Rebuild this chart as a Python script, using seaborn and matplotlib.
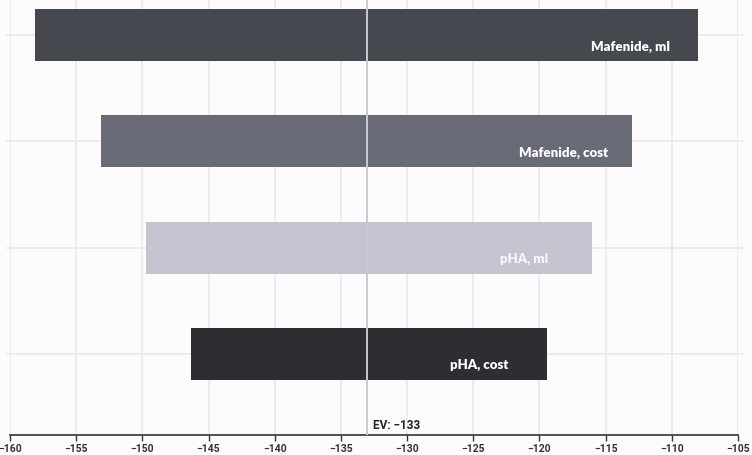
import matplotlib
matplotlib.use("Agg")
import matplotlib.pyplot as plt
import seaborn as sns
import pandas as pd
from matplotlib import font_manager

# ---- data ----
params = ["Mafenide, ml", "Mafenide, cost", "pHA, ml", "pHA, cost"]
low_vals = [-158.1, -153.1, -149.7, -146.3]
high_vals = [-108.0, -113.0, -116.0, -119.4]
ev_value = -133
x_ticks = [-160, -155, -150, -145, -140, -135, -130, -125, -120, -115, -110, -105]

bar_colors = ["#45484f", "#686a76", "#c5c4d1", "#2d2e32"]
label_colors = ["#ffffff", "#ffffff", "#f6f6fa", "#ffffff"]

sns.set_theme(style="white")
fonts = font_manager.fontManager.ttflist
names = {f.name for f in fonts}
if "Liberation Sans Narrow" in names:
    narrow_fam = ["Liberation Sans Narrow", "DejaVu Sans"]
else:
    narrow_fam = ["Roboto", "DejaVu Sans"]
plt.rcParams["font.family"] = ["Lato", "DejaVu Sans"]

bg = "#fdfbfc"
fig = plt.figure(figsize=(7.52, 4.56), dpi=100, facecolor=bg)
ax = fig.add_axes([10 / 752, 20 / 456, 728 / 752, 436 / 456], facecolor=bg)

df = pd.DataFrame({"param": params,
                   "width": [h - l for h, l in zip(high_vals, low_vals)]})
sns.barplot(data=df, x="width", y="param", hue="param", palette=bar_colors,
            orient="h", width=0.49, legend=False, ax=ax, zorder=2,
            saturation=1)
for patch, lo in zip(ax.patches, low_vals):
    patch.set_x(lo)
    patch.set_edgecolor("none")

ax.set_xlim(-160, -105)
ax.set_ylim(3.762, -0.339)

# grid
for t in x_ticks:
    ax.axvline(t, color="#ece9ef", lw=1.3, zorder=0)
for i in range(len(params)):
    ax.plot([-160.2, -104.6], [i, i], color="#ece9ef", lw=1.3, zorder=0,
            clip_on=False)

# EV line
ax.axvline(ev_value, color="#c9c7da", lw=1.4, zorder=3)
ax.text(ev_value + 0.4, 3.66, f"EV: \u2212{abs(ev_value)}", fontsize=8.5,
        fontweight="bold", color="#222222", va="center", ha="left", zorder=4,
        family=narrow_fam)

# labels, centred ~68 px left of each bar's right end, slightly below centre
for i, (p, xr, c) in enumerate(zip(params, high_vals, label_colors)):
    ax.annotate(p, xy=(xr, i), xytext=(-49, -7.5), textcoords="offset points",
                ha="center", va="center", color=c, fontsize=9.5,
                fontweight="heavy", zorder=5)

ax.set_xticks(x_ticks)
ax.set_xticklabels([f"\u2212{abs(t)}" for t in x_ticks])
for lab in ax.get_xticklabels():
    lab.set_fontsize(7.5)
    lab.set_color("#333333")
    lab.set_fontweight("bold")
    lab.set_family(narrow_fam)
ax.set_yticks([])
ax.set_xlabel("")
ax.set_ylabel("")
for s in ["top", "right", "left"]:
    ax.spines[s].set_visible(False)
ax.spines["bottom"].set_color("#333333")
ax.spines["bottom"].set_linewidth(1.2)
ax.tick_params(axis="x", bottom=True, length=4, width=1, color="#333333", pad=1.5)

fig.savefig("out.png", dpi=100, facecolor=bg)
